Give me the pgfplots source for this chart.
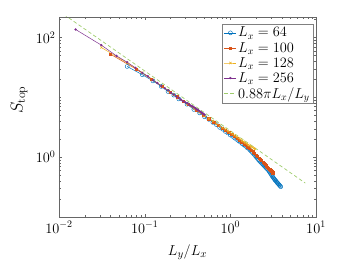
\documentclass[border=0pt]{standalone}
\usepackage{pgfplots}
\pgfplotsset{compat=1.18}
\definecolor{mBlue}{rgb}{0,0.447,0.741}
\definecolor{mOrange}{rgb}{0.85,0.325,0.098}
\definecolor{mYellow}{rgb}{0.929,0.694,0.125}
\definecolor{mPurple}{rgb}{0.494,0.184,0.556}
\definecolor{mGreen}{rgb}{0.62,0.80,0.42}
\begin{document}
\begin{tikzpicture}
\useasboundingbox (-59bp,-45bp) rectangle (290bp,217bp);
\begin{axis}[at={(0,0)}, anchor=south west, scale only axis,
 width=257bp, height=200bp,
 xmode=log, ymode=log, xmin=0.01, xmax=10, ymin=0.1, ymax=220,
 xtick={0.01,0.1,1,10}, ytick={1,100},
 minor xtick={0.02,0.03,0.04,0.05,0.06,0.07,0.08,0.09,0.2,0.3,0.4,0.5,0.6,0.7,0.8,0.9,2,3,4,5,6,7,8,9},
 minor ytick={0.2,0.3,0.4,0.5,0.6,0.7,0.8,0.9,2,3,4,5,6,7,8,9,10,20,30,40,50,60,70,80,90,200},
 tick align=inside, axis line style={black!60}, tick style={black!60},
 major tick length=3bp, minor tick length=1.8bp,
 tick label style={font=\fontsize{14}{16}\selectfont},
 xticklabel style={yshift=-1bp},
 xlabel={$L_y/L_x$}, ylabel={$S_{\rm top}$},
 xlabel style={font=\fontsize{15.5}{18}\selectfont, at={(axis description cs:0.5,-0.175)}, anchor=center},
 ylabel style={font=\fontsize{18}{20}\selectfont, at={(axis description cs:-0.155,0.585)}, anchor=center},
 legend style={at={(0.988,0.965)}, anchor=north east, draw=black!50,
   font=\fontsize{14.5}{16}\selectfont, inner sep=1.5pt, row sep=0.8pt,
   nodes={inner sep=1.5pt}},
 legend cell align=left,
 legend image code/.code={\draw[mark repeat=2,mark phase=2] plot coordinates {(0cm,0cm) (0.21cm,0cm) (0.42cm,0cm)};},
]
\addplot[color=mBlue, line width=0.5pt, mark=o, mark size=2pt, mark options={solid, line width=0.45pt}] coordinates {
(0.0625,32.8) (0.09375,23.9) (0.125,18.8) (0.15625,15.2) (0.1875,12.5) (0.21875,10.9) (0.25,9.40)
(0.3125,7.66) (0.375,6.27) (0.4375,5.50) (0.5,4.73) (0.5625,4.28) (0.625,3.81) (0.6875,3.50)
(0.75,3.15) (0.8125,2.94) (0.875,2.69) (0.9375,2.54) (1,2.34) (1.0625,2.23) (1.125,2.08)
(1.1875,1.98) (1.25,1.86) (1.3125,1.78) (1.375,1.68) (1.4375,1.61) (1.5,1.53) (1.5625,1.45)
(1.625,1.40) (1.6875,1.32) (1.75,1.256) (1.8125,1.190) (1.875,1.128) (1.9375,1.063) (2,1.009)
(2.0625,0.959) (2.125,0.911) (2.1875,0.866) (2.25,0.830) (2.3125,0.795) (2.375,0.768) (2.4375,0.738)
(2.5,0.708) (2.5625,0.685) (2.625,0.658) (2.6875,0.638) (2.75,0.619) (2.8125,0.590) (2.875,0.563)
(2.9375,0.537) (3,0.512) (3.0625,0.488) (3.125,0.469) (3.1875,0.451) (3.25,0.434) (3.3125,0.417)
(3.375,0.406) (3.4375,0.394) (3.5,0.379) (3.5625,0.369) (3.625,0.359) (3.6875,0.349) (3.75,0.339)
(3.8125,0.330) (3.875,0.321)};
\addlegendentry{$L_x=64$}
\addplot[color=mOrange, line width=0.5pt, mark=square*, mark size=1.1pt, mark options={solid}] coordinates {
(0.04,52.5) (0.08,29.4) (0.12,20.05) (0.16,15.21) (0.20,12.10) (0.24,10.20) (0.28,8.69) (0.32,7.56)
(0.40,6.12) (0.48,5.07) (0.56,4.37) (0.64,3.85) (0.72,3.42) (0.80,3.09) (0.88,2.83) (0.96,2.59)
(1.04,2.39) (1.12,2.22) (1.20,2.06) (1.28,1.92) (1.36,1.80) (1.44,1.68) (1.52,1.574) (1.60,1.478)
(1.68,1.391) (1.76,1.312) (1.84,1.232) (1.92,1.159) (2.00,1.092) (2.08,1.030) (2.16,0.973)
(2.24,0.926) (2.32,0.882) (2.40,0.835) (2.48,0.792) (2.56,0.756) (2.64,0.717) (2.72,0.681)
(2.80,0.652) (2.88,0.624) (2.96,0.598) (3.04,0.573) (3.12,0.549)};
\addlegendentry{$L_x=100$}
\addplot[color=mYellow, line width=0.5pt, mark=x, mark size=1.6pt, mark options={solid}] coordinates {
(0.03125,68.0) (0.0625,37.6) (0.09375,25.8) (0.125,19.58) (0.15625,15.48) (0.1875,13.05)
(0.21875,11.12) (0.25,9.79) (0.3125,7.74) (0.375,6.53) (0.4375,5.62) (0.5,4.89) (0.5625,4.42)
(0.625,4.00) (0.6875,3.62) (0.75,3.35) (0.8125,3.10) (0.875,2.91) (0.9375,2.71) (1,2.57)
(1.0625,2.42) (1.125,2.30) (1.1875,2.165) (1.25,2.07) (1.3125,1.98) (1.375,1.88) (1.4375,1.81)
(1.5,1.733) (1.5625,1.672) (1.625,1.608) (1.6875,1.557) (1.75,1.501) (1.8125,1.457) (1.875,1.408)
(1.9375,1.370)};
\addlegendentry{$L_x=128$}
\addplot[color=mPurple, line width=0.5pt, mark=*, mark size=0.9pt, mark options={solid}] coordinates {
(0.015625,136.1) (0.03125,74.4) (0.046875,49.3) (0.0625,38.5) (0.078125,31.1) (0.09375,25.66)
(0.109375,22.5) (0.125,19.35) (0.140625,17.4) (0.15625,15.4) (0.171875,14.16) (0.1875,13.12)
(0.203125,11.91) (0.21875,11.12) (0.234375,10.26) (0.25,9.79) (0.265625,9.16) (0.28125,8.60)
(0.296875,8.29) (0.3125,7.96) (0.328125,7.58) (0.34375,7.32) (0.359375,7.08) (0.375,6.86)
(0.390625,6.58) (0.40625,6.33) (0.421875,6.10) (0.4375,5.88) (0.453125,5.67) (0.46875,5.49)
(0.484375,5.31) (0.5,5.14)};
\addlegendentry{$L_x=256$}
\addplot[color=mGreen, line width=0.7pt, dash pattern=on 3.5pt off 2.5pt] coordinates {(0.01,276.5) (7.5,0.3687)};
\addlegendentry{$0.88\pi L_x/L_y$}
\end{axis}
\end{tikzpicture}
\end{document}
